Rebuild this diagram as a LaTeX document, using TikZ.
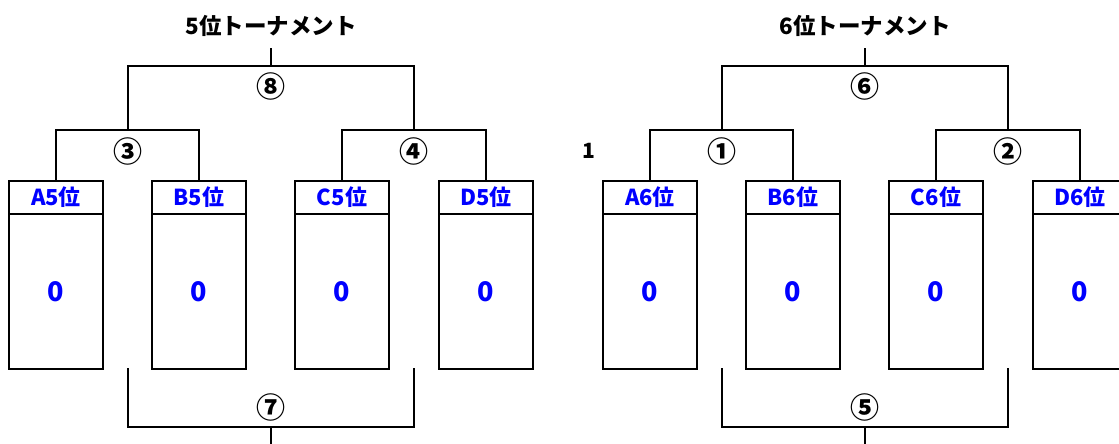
\documentclass[tikz,border=0pt]{standalone}
\usepackage{fontspec}
\setmainfont{Noto Sans CJK JP}
\usetikzlibrary{positioning}
\tikzset{
  hd/.style={draw, minimum width=94pt, minimum height=33pt, inner sep=0pt, outer sep=0pt,
    text=blue, font=\fontsize{22}{22}\selectfont\bfseries},
  bd/.style={draw, minimum width=94pt, minimum height=155pt, inner sep=0pt, outer sep=0pt,
    text=blue, font=\fontsize{27}{27}\selectfont\bfseries},
  num/.style={font=\fontsize{29}{29}\selectfont\bfseries},
  ttl/.style={font=\fontsize{22.5}{22.5}\selectfont\bfseries}
}
\begin{document}
\begin{tikzpicture}[x=1pt,y=-1pt,line width=2.5pt]
\useasboundingbox (0,0) rectangle (1119,444);
% 5位トーナメント
\node [ttl] (t5) at (271,26) {5位トーナメント};
\node [hd] (a5h) at (56,197.5) {A5位};
\node [bd, below=0pt of a5h] (a5) {0};
\node [hd] (b5h) at (199,197.5) {B5位};
\node [bd, below=0pt of b5h] (b5) {0};
\node [hd] (c5h) at (342,197.5) {C5位};
\node [bd, below=0pt of c5h] (c5) {0};
\node [hd] (d5h) at (486,197.5) {D5位};
\node [bd, below=0pt of d5h] (d5) {0};
\coordinate (m3) at (128,130);
\coordinate (m4) at (414,130);
\coordinate (m8) at (271,66);
\coordinate (t8) at (271,48);
\coordinate (u7l) at (128,368);
\coordinate (u7r) at (414,368);
\coordinate (m7) at (271,427);
\coordinate (d7) at (271,444);
\draw (a5h.north) |- (m3) -| (b5h.north);
\draw (c5h.north) |- (m4) -| (d5h.north);
\draw (m3) |- (m8) -| (m4);
\draw (m8) -- (t8);
\draw (u7l) |- (m7) -| (u7r);
\draw (m7) -- (d7);
\node [num] (n3) at (128,151) {③};
\node [num] (n4) at (414,151) {④};
\node [num] (n8) at (271,86) {⑧};
\node [num] (n7) at (271,407) {⑦};
% 6位トーナメント
\node [ttl] (t6) at (865,26) {6位トーナメント};
\node [hd] (a6h) at (650,197.5) {A6位};
\node [bd, below=0pt of a6h] (a6) {0};
\node [hd] (b6h) at (793,197.5) {B6位};
\node [bd, below=0pt of b6h] (b6) {0};
\node [hd] (c6h) at (936,197.5) {C6位};
\node [bd, below=0pt of c6h] (c6) {0};
\node [hd] (d6h) at (1080,197.5) {D6位};
\node [bd, below=0pt of d6h] (d6) {0};
\coordinate (m1) at (722,130);
\coordinate (m2) at (1008,130);
\coordinate (m6) at (865,66);
\coordinate (t6s) at (865,48);
\coordinate (u5l) at (722,368);
\coordinate (u5r) at (1008,368);
\coordinate (m5) at (865,427);
\coordinate (d5s) at (865,444);
\draw (a6h.north) |- (m1) -| (b6h.north);
\draw (c6h.north) |- (m2) -| (d6h.north);
\draw (m1) |- (m6) -| (m2);
\draw (m6) -- (t6s);
\draw (u5l) |- (m5) -| (u5r);
\draw (m5) -- (d5s);
\node [num] (n1) at (722,151) {①};
\node [num] (n2) at (1008,151) {②};
\node [num] (n6) at (865,86) {⑥};
\node [num] (n5) at (865,407) {⑤};
\node [font=\fontsize{21}{21}\selectfont\bfseries] (one) at (589,151) {1};
\end{tikzpicture}
\end{document}
